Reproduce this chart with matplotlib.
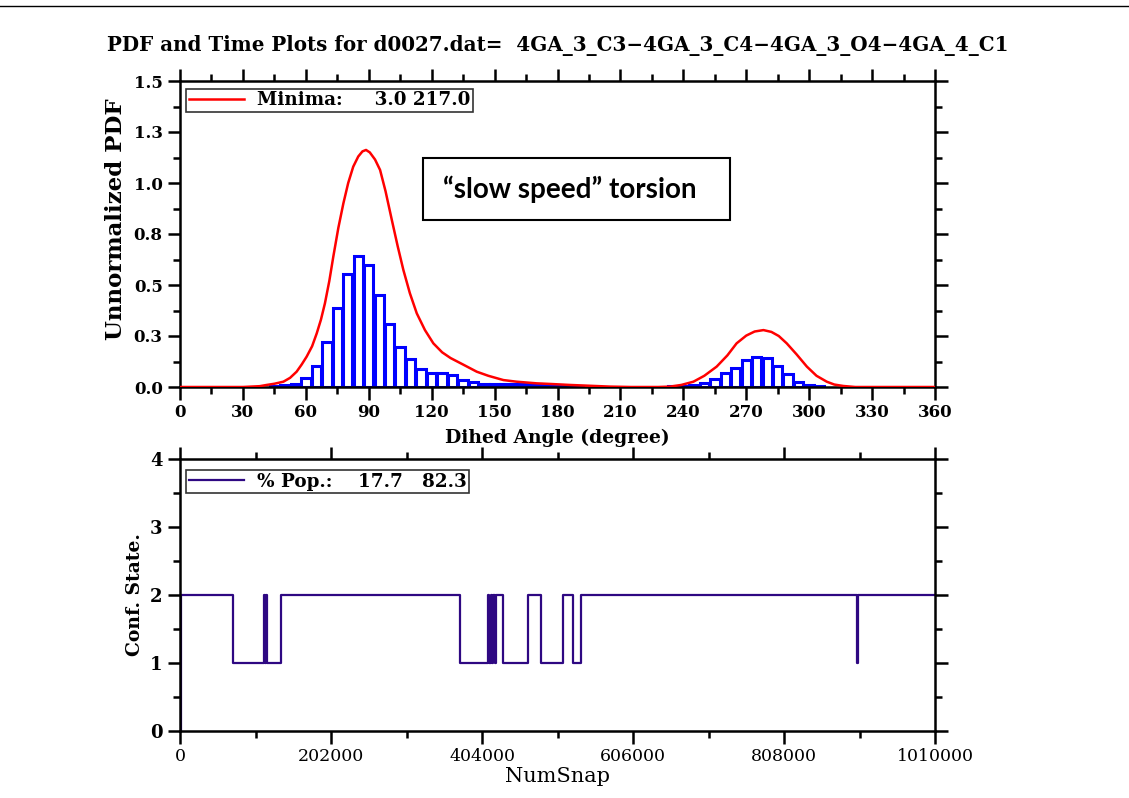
import matplotlib
matplotlib.use("Agg")
import matplotlib.pyplot as plt
from matplotlib.patches import Rectangle
from matplotlib.lines import Line2D

# ── data ─────────────────────────────────────────────────────────────────────
bin_centers = [45, 50, 55, 60, 65, 70, 75, 80, 85, 90, 95, 100, 105, 110, 115,
               120, 125, 130, 135, 140, 145, 150, 155, 160, 165, 170, 175, 180,
               185, 190,
               235, 240, 245, 250, 255, 260, 265, 270, 275, 280, 285, 290, 295,
               300, 305]
bin_heights = [0.004, 0.008, 0.015, 0.044, 0.104, 0.220, 0.386, 0.552, 0.642,
               0.597, 0.451, 0.307, 0.198, 0.137, 0.090, 0.070, 0.070, 0.058,
               0.036, 0.023, 0.013, 0.013, 0.013, 0.013, 0.013, 0.013, 0.012,
               0.010, 0.007, 0.004,
               0.003, 0.005, 0.010, 0.018, 0.041, 0.070, 0.095, 0.132, 0.149,
               0.144, 0.103, 0.062, 0.026, 0.008, 0.004]

pdf_angle = [0, 30, 38, 41.3, 45, 49.3, 52.5, 55.6, 58, 60.4, 63, 65.2, 67.2,
             69.1, 71.2, 73.1, 75.5, 77.9, 80.2, 82.6, 85, 87, 88.7, 90.5, 93,
             95.4, 98, 101, 103.8, 106.5, 109.6, 112.9, 116.8, 120.8, 125, 129,
             135, 141.5, 147, 154.2, 160.5, 170, 176.4, 186, 195.5, 205, 215,
             228, 233.7, 239, 244.8, 250, 255.9, 261, 265.4, 270, 274, 278.2,
             282, 285.5, 289.3, 294, 298.9, 303.5, 308.4, 312, 316.3, 322, 360]
pdf_value = [0.0, 0.0, 0.004, 0.010, 0.016, 0.026, 0.045, 0.075, 0.110, 0.149,
             0.200, 0.263, 0.330, 0.410, 0.520, 0.639, 0.780, 0.900, 1.000,
             1.080, 1.130, 1.155, 1.162, 1.150, 1.115, 1.064, 0.960, 0.819,
             0.690, 0.574, 0.460, 0.361, 0.279, 0.214, 0.170, 0.142, 0.110,
             0.075, 0.055, 0.034, 0.026, 0.018, 0.015, 0.010, 0.006, 0.002,
             0.0, 0.0, 0.002, 0.010, 0.026, 0.055, 0.100, 0.155, 0.214, 0.252,
             0.272, 0.279, 0.270, 0.250, 0.214, 0.160, 0.100, 0.055, 0.026,
             0.012, 0.005, 0.0, 0.0]

snap  = [0, 1000, 70500, 112000, 113500, 115000, 116500, 135000, 374500,
         412500, 414000, 416000, 417500, 419000, 421000, 423000, 432500,
         466000, 482500, 512000, 526000, 536500, 905000, 907500, 1010000]
state = [0, 2, 1, 2, 1, 2, 1, 2, 1,
         2, 1, 2, 1, 2, 1, 2, 1,
         2, 1, 2, 1, 2, 1, 2, 2]

pdf_yticks = [0.0, 0.25, 0.5, 0.75, 1.0, 1.25, 1.5]
pdf_yticklabels = ["0.0", "0.3", "0.5", "0.8", "1.0", "1.3", "1.5"]
snap_xticks = [0, 202000, 404000, 606000, 808000, 1010000]

# ── plot ─────────────────────────────────────────────────────────────────────
plt.rcParams["font.family"] = "DejaVu Serif"
fig = plt.figure(figsize=(11.29, 7.98), dpi=100)
fig.add_artist(Line2D([0, 1], [1 - 6 / 798, 1 - 6 / 798], color="black", lw=1))
fig.text(0.494, 1 - 45 / 798,
         "PDF and Time Plots for d0027.dat=  4GA_3_C3\u22124GA_3_C4\u22124GA_3_O4\u22124GA_4_C1",
         ha="center", va="center", fontsize=14.3, fontweight="bold")

ax1 = fig.add_axes([180 / 1129, 1 - 387 / 798, 755 / 1129, 306 / 798])
ax2 = fig.add_axes([180 / 1129, 1 - 731 / 798, 755 / 1129, 272 / 798])

for ax in (ax1, ax2):
    for s in ax.spines.values():
        s.set_linewidth(1.8)
    ax.tick_params(which="both", direction="out", top=True, right=True,
                   width=1.8)
    ax.tick_params(which="major", length=9)
    ax.tick_params(which="minor", length=5)

# top panel
ax1.bar(bin_centers, bin_heights, width=4.5, facecolor="white",
        edgecolor="#0000ff", linewidth=2.2, zorder=2)
ax1.plot(pdf_angle, pdf_value, color="#ff0000", lw=1.8, zorder=3,
         label="Minima:     3.0 217.0")
ax1.set_xlim(0, 360)
ax1.set_ylim(0, 1.5)
ax1.set_xticks(range(0, 361, 30))
ax1.set_xticks(range(15, 360, 30), minor=True)
ax1.set_yticks(pdf_yticks)
ax1.set_yticklabels(pdf_yticklabels)
ax1.set_yticks([0.125 + 0.25 * i for i in range(6)], minor=True)
for lab in ax1.get_xticklabels() + ax1.get_yticklabels():
    lab.set_fontweight("bold")
    lab.set_fontsize(12)
ax1.set_xlabel("Dihed Angle (degree)", fontsize=13.5, fontweight="bold",
               labelpad=5)
ax1.set_ylabel("Unnormalized PDF", fontsize=16.5, fontweight="bold")
ax1.yaxis.set_label_coords(-0.07, 0.55)
leg1 = ax1.legend(loc="upper left", bbox_to_anchor=(0.008, 0.975),
                  borderaxespad=0, fancybox=False, handlelength=3.0,
                  handletextpad=0.7, borderpad=0.15,
                  prop={"weight": "bold", "size": 13.2})
leg1.get_frame().set_edgecolor("black")
leg1.get_frame().set_linewidth(1.2)

ax1.add_patch(Rectangle((0.322, 0.546), 0.406, 0.202, transform=ax1.transAxes,
                        facecolor="white", edgecolor="black", lw=1.5, zorder=4))
ax1.text(0.348, 0.645, "\u201cslow speed\u201d torsion", transform=ax1.transAxes,
         ha="left", va="center", fontsize=20, fontweight="bold",
         family="Lato", zorder=5)

# bottom panel
ax2.step(snap, state, where="post", color="#2e0882", lw=1.6,
         label="% Pop.:    17.7   82.3")
ax2.set_xlim(0, 1010000)
ax2.set_ylim(0, 4)
ax2.set_xticks(snap_xticks)
ax2.set_xticklabels([str(v) for v in snap_xticks])
ax2.set_xticks([101000 + 202000 * i for i in range(5)], minor=True)
ax2.set_yticks([0, 1, 2, 3, 4])
ax2.set_yticks([0.5, 1.5, 2.5, 3.5], minor=True)
for lab in ax2.get_xticklabels():
    lab.set_fontsize(12.5)
for lab in ax2.get_yticklabels():
    lab.set_fontsize(13)
    lab.set_fontweight("bold")
ax2.set_xlabel("NumSnap", fontsize=15, labelpad=1)
ax2.set_ylabel("Conf. State.", fontsize=13.5, fontweight="bold", labelpad=4)
leg2 = ax2.legend(loc="upper left", bbox_to_anchor=(0.008, 0.96),
                  borderaxespad=0, fancybox=False, handlelength=3.0,
                  handletextpad=0.7, borderpad=0.15,
                  prop={"weight": "bold", "size": 13.2})
leg2.get_frame().set_edgecolor("black")
leg2.get_frame().set_linewidth(1.2)

fig.savefig("out.png", dpi=100)
